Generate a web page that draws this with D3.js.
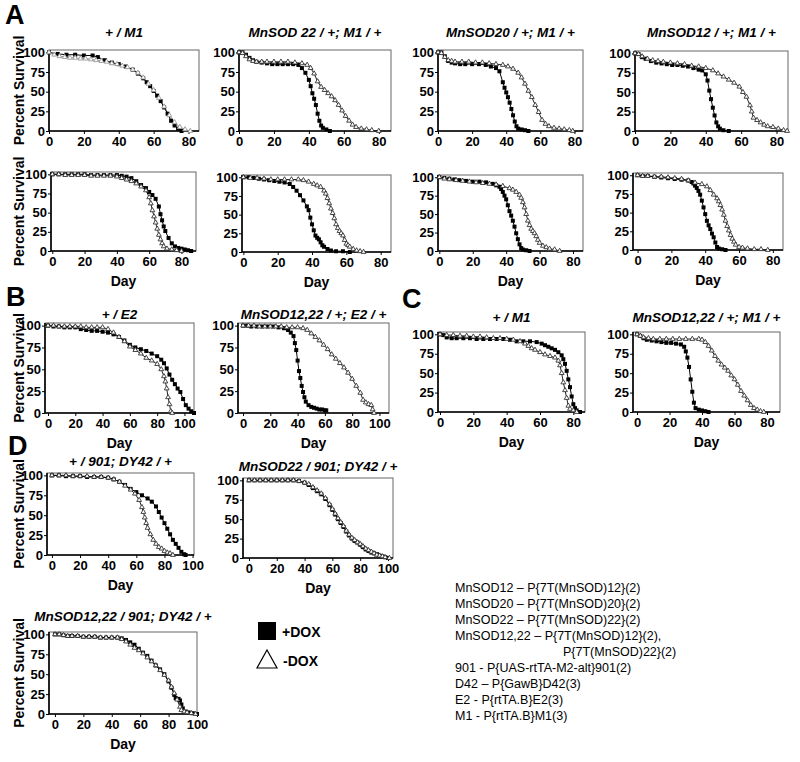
<!DOCTYPE html>
<html><head><meta charset="utf-8">
<script src="https://cdn.jsdelivr.net/npm/d3@7"></script>
<style>
body{margin:0;background:#fff;}
svg{display:block;font-family:"Liberation Sans",Arial,Helvetica,sans-serif;}
</style></head>
<body><svg id="c" width="800" height="762"></svg>
<script>
// ---------- DATA ----------
const yTicks = [0, 25, 50, 75, 100];
const xTicks80 = [0, 20, 40, 60, 80];
const xTicks100 = [0, 20, 40, 60, 80, 100];
const legendLabels = ["+DOX", "-DOX"];
const panelLetters = ["A", "B", "C", "D"];
const titles = ["+ / M1", "MnSOD 22 / +; M1 / +", "MnSOD20 / +; M1 / +", "MnSOD12 / +; M1 / +",
  "+ / E2", "MnSOD12,22 / +; E2 / +", "+ / M1", "MnSOD12,22 / +; M1 / +",
  "+ / 901; DY42 / +", "MnSOD22 / 901; DY42 / +", "MnSOD12,22 / 901; DY42 / +"];
const notes = [
  ["MnSOD12 \u2013 P{7T(MnSOD)12}(2)", 0],
  ["MnSOD20 \u2013 P{7T(MnSOD)20}(2)", 0],
  ["MnSOD22 \u2013 P{7T(MnSOD)22}(2)", 0],
  ["MnSOD12,22 \u2013 P{7T(MnSOD)12}(2),", 0],
  ["P{7T(MnSOD)22}(2)", 1],
  ["901 - P{UAS-rtTA-M2-alt}901(2)", 0],
  ["D42 \u2013 P{GawB}D42(3)", 0],
  ["E2 - P{rtTA.B}E2(3)", 0],
  ["M1 - P{rtTA.B}M1(3)", 0]
];

// series: [day, percent survival]
const a1Dox = [[0,100],[5,98],[10,97],[15,97],[20,96],[25,96],[28,94],[32,90],[36,87],[40,85],[44,82],[48,78],[51,73],[54,67],[56,62],[58,57],[60,51],[62,45],[64,38],[66,30],[68,22],[70,13],[72,7],[74,3],[76,0]];
const a1NoDox = [[0,100],[3,97],[6,95],[9,94],[12,93],[15,93],[18,92],[21,92],[24,91],[27,90],[30,89],[33,88],[36,86],[39,85],[42,83],[45,81],[48,78],[51,74],[54,68],[57,60],[60,52],[63,42],[66,31],[69,20],[72,11],[75,5],[78,2],[81,0]];
const a2Dox = [[0,100],[2,100],[4,97],[6,93],[8,90],[10,88],[13,87],[16,86],[19,85],[22,85],[25,85],[28,85],[31,85],[34,84],[36,80],[38,74],[40,65],[41,57],[42,48],[43,41],[44,33],[45,22],[46,13],[47,7],[48,4],[50,2],[52,0]];
const a2NoDox = [[0,100],[2,99],[4,95],[6,91],[8,89],[10,88],[13,88],[16,88],[20,88],[24,88],[28,88],[32,87],[36,86],[39,84],[41,80],[43,73],[45,63],[47,56],[49,52],[51,48],[53,44],[55,39],[57,33],[59,26],[61,19],[63,13],[65,8],[67,5],[70,3],[73,2],[76,1],[80,0]];
const a3Dox = [[0,100],[2,100],[4,95],[6,89],[8,87],[10,86],[13,85],[16,85],[20,85],[24,85],[28,84],[31,82],[34,80],[36,76],[38,62],[39,55],[40,49],[41,43],[42,36],[43,28],[44,20],[45,12],[46,6],[47,3],[49,2],[51,1],[53,0]];
const a3NoDox = [[0,100],[2,99],[4,94],[6,90],[8,89],[10,88],[14,88],[18,88],[22,87],[26,87],[30,86],[34,85],[38,84],[41,82],[44,79],[47,74],[49,68],[51,60],[53,51],[55,43],[57,33],[59,24],[61,14],[63,9],[65,6],[68,4],[71,3],[74,2],[77,1],[79,0]];
const a4Dox = [[0,100],[2,99],[4,95],[6,93],[9,90],[12,88],[15,87],[18,86],[21,85],[24,85],[27,84],[30,83],[33,81],[36,79],[38,78],[40,73],[41,65],[42,52],[43,41],[44,30],[45,20],[46,11],[47,6],[48,3],[50,1],[53,0]];
const a4NoDox = [[0,100],[2,99],[4,96],[7,93],[10,91],[13,90],[16,89],[20,88],[24,87],[28,86],[32,84],[36,83],[40,81],[44,78],[47,74],[50,70],[53,66],[56,62],[59,57],[61,50],[63,44],[65,33],[66,25],[67,17],[69,14],[71,11],[73,8],[75,6],[78,5],[81,3],[84,1],[86,0]];
const a5Dox = [[0,100],[4,100],[8,100],[12,100],[16,100],[20,100],[24,99],[28,99],[32,99],[36,99],[40,99],[43,98],[46,97],[49,95],[52,91],[55,86],[58,82],[60,77],[62,73],[64,68],[66,58],[67,48],[68,40],[69,32],[70,26],[72,17],[74,10],[76,6],[78,4],[80,3],[82,2],[84,1],[86,0]];
const a5NoDox = [[0,100],[4,100],[8,99],[12,99],[16,99],[20,99],[24,98],[28,98],[32,98],[36,98],[40,97],[43,95],[46,93],[49,91],[52,88],[55,84],[58,79],[60,70],[61,62],[62,53],[63,45],[64,37],[65,29],[66,21],[67,15],[68,10],[69,6],[71,3],[74,2],[77,1],[80,0]];
const a6Dox = [[0,100],[3,100],[6,99],[9,98],[12,97],[15,96],[18,95],[21,94],[24,93],[27,91],[29,87],[31,82],[33,76],[35,69],[37,61],[38,56],[39,46],[40,37],[41,29],[42,22],[43,19],[44,17],[45,13],[46,9],[47,7],[49,4],[51,2],[54,1],[58,1],[62,0]];
const a6NoDox = [[0,100],[4,99],[8,99],[12,98],[16,97],[20,97],[24,97],[28,97],[32,97],[35,96],[38,94],[41,91],[43,89],[45,87],[47,82],[48,78],[49,72],[50,65],[51,58],[52,52],[53,45],[54,37],[55,32],[56,28],[57,25],[58,22],[59,16],[60,11],[61,9],[62,7],[64,4],[66,2],[68,1],[70,0]];
const a7Dox = [[0,100],[3,99],[6,98],[9,97],[12,96],[16,95],[20,94],[24,94],[28,93],[32,91],[34,89],[36,87],[37,84],[38,80],[39,75],[40,70],[41,62],[42,54],[43,48],[44,41],[45,33],[46,24],[47,16],[48,9],[49,4],[50,2],[52,1],[54,0]];
const a7NoDox = [[0,100],[3,98],[6,97],[10,96],[14,95],[18,94],[22,93],[26,92],[30,91],[34,90],[38,88],[42,85],[44,83],[46,80],[48,76],[49,72],[50,66],[51,59],[52,50],[53,41],[54,35],[55,30],[56,27],[57,24],[58,20],[59,15],[60,11],[62,7],[64,5],[66,3],[69,2],[72,0]];
const a8Dox = [[0,100],[3,99],[6,99],[10,98],[14,97],[18,96],[22,95],[26,94],[30,93],[32,91],[33,89],[34,86],[35,83],[36,79],[37,74],[38,66],[39,57],[40,48],[41,39],[42,33],[43,28],[44,22],[45,17],[46,10],[47,4],[48,2],[50,1],[52,0]];
const a8NoDox = [[0,100],[3,99],[6,99],[10,98],[14,98],[18,97],[22,96],[26,95],[30,93],[34,90],[38,88],[41,85],[43,80],[45,74],[47,69],[48,65],[49,60],[50,54],[51,47],[52,39],[53,32],[54,26],[55,20],[56,15],[57,11],[58,7],[60,4],[62,3],[65,2],[69,1],[73,1],[77,0]];
const b1Dox = [[0,100],[4,99],[8,99],[12,98],[16,98],[20,98],[24,96],[28,95],[32,94],[36,94],[40,93],[44,92],[48,90],[52,87],[56,83],[60,78],[64,75],[68,73],[72,71],[76,68],[80,65],[83,61],[85,57],[87,51],[89,44],[91,38],[93,33],[95,28],[97,24],[99,16],[101,9],[103,5],[105,2],[107,0]];
const b1NoDox = [[0,100],[4,100],[8,99],[12,99],[16,99],[20,99],[24,99],[28,98],[32,98],[36,98],[40,98],[44,96],[48,92],[52,87],[56,82],[60,76],[64,72],[68,68],[72,63],[76,60],[80,56],[83,50],[85,42],[86,36],[87,28],[88,18],[89,10],[90,2],[91,0]];
const b2Dox = [[0,100],[3,100],[6,99],[10,99],[14,99],[18,99],[22,99],[26,98],[30,97],[33,95],[35,92],[37,88],[38,80],[39,72],[40,60],[41,48],[42,40],[43,31],[44,24],[45,18],[46,13],[48,9],[50,7],[52,6],[54,5],[56,4],[58,4],[60,3],[61,3]];
const b2NoDox = [[0,100],[4,100],[8,100],[12,99],[16,99],[20,99],[24,99],[28,99],[32,98],[36,98],[40,98],[44,97],[47,95],[50,91],[53,87],[56,83],[59,78],[62,73],[65,67],[68,62],[71,57],[74,52],[77,46],[80,39],[83,31],[86,23],[88,15],[90,12],[92,10],[94,9],[95,4],[96,0]];
const c1Dox = [[0,100],[2,99],[4,96],[7,95],[10,95],[14,95],[18,95],[22,94],[26,94],[30,94],[34,94],[38,94],[42,93],[46,91],[50,91],[54,91],[58,90],[61,88],[63,86],[65,84],[67,82],[69,80],[71,77],[73,73],[74,68],[75,62],[76,53],[77,42],[78,32],[79,20],[80,10],[81,5],[82,2],[84,0]];
const c1NoDox = [[0,100],[4,99],[8,99],[12,98],[16,98],[20,97],[24,97],[28,96],[32,95],[36,95],[40,94],[44,93],[48,91],[51,88],[53,85],[55,82],[57,80],[60,77],[63,74],[66,72],[69,70],[71,66],[72,60],[73,50],[74,38],[75,28],[76,18],[77,8],[78,4],[80,2],[82,0]];
const c2Dox = [[0,100],[2,98],[4,95],[6,93],[9,92],[12,91],[15,90],[18,89],[21,89],[24,88],[27,87],[29,84],[30,78],[31,70],[32,58],[33,42],[34,26],[35,12],[36,5],[38,3],[40,2],[42,1],[44,0]];
const c2NoDox = [[0,100],[2,98],[4,96],[7,95],[10,94],[14,94],[18,94],[22,94],[26,94],[30,94],[34,94],[38,94],[40,93],[42,90],[44,85],[46,79],[48,72],[50,66],[52,61],[54,57],[56,53],[58,47],[60,42],[62,35],[64,27],[66,21],[68,15],[70,9],[72,5],[74,3],[76,1],[78,0]];
const d1Dox = [[0,100],[5,100],[10,99],[15,99],[20,99],[25,98],[30,98],[35,98],[40,97],[44,95],[48,92],[52,88],[56,83],[60,79],[64,75],[68,71],[71,67],[74,61],[76,54],[78,47],[80,40],[82,33],[84,26],[86,19],[88,14],[90,9],[92,4],[94,1],[95,0]];
const d1NoDox = [[0,100],[5,100],[10,100],[15,99],[20,99],[25,99],[30,98],[35,98],[40,97],[44,95],[48,92],[52,87],[56,82],[59,77],[62,69],[64,60],[65,54],[66,47],[67,40],[68,34],[70,26],[72,19],[74,14],[76,10],[78,8],[80,5],[82,3],[84,2],[86,0]];
const d2Dox = [[0,100],[4,100],[8,100],[12,100],[16,100],[20,100],[24,100],[28,100],[32,100],[36,99],[40,97],[43,94],[46,90],[49,86],[52,82],[55,76],[58,68],[60,62],[62,56],[64,50],[66,45],[68,40],[70,34],[72,29],[74,25],[76,22],[78,20],[80,17],[82,14],[84,11],[86,9],[88,7],[90,6],[92,5],[94,3],[96,2],[98,1],[100,0]];
const d2NoDox = [[0,100],[4,100],[8,100],[12,100],[16,100],[20,100],[24,100],[28,100],[32,100],[36,99],[40,97],[43,95],[46,91],[49,87],[52,83],[55,77],[58,69],[60,63],[62,57],[64,51],[66,46],[68,41],[70,35],[72,30],[74,26],[76,23],[78,20],[80,18],[82,15],[84,12],[86,10],[88,8],[90,6],[92,4],[94,3],[96,2],[98,1],[101,0]];
const d3Dox = [[0,100],[3,100],[6,99],[9,98],[12,98],[16,98],[20,97],[24,97],[28,97],[32,96],[36,96],[40,96],[44,96],[47,95],[50,93],[53,90],[56,87],[59,82],[62,77],[65,73],[68,67],[71,61],[74,56],[77,50],[80,41],[82,33],[84,24],[85,20],[87,19],[88,17],[89,12],[90,7],[92,3],[94,2],[97,1],[100,0]];
const d3NoDox = [[0,100],[3,100],[6,99],[9,98],[12,98],[16,98],[20,97],[24,97],[28,97],[32,96],[36,96],[40,96],[44,96],[47,94],[50,91],[53,87],[56,83],[59,80],[62,76],[65,71],[68,66],[71,61],[74,55],[77,49],[80,42],[82,34],[84,26],[86,18],[88,9],[89,5],[91,3],[93,2],[96,1],[99,0]];

// ---------- LAYOUT ----------
const panels = [
  {x0:49, x1:199, y0:50, y1:131, xd:[0,86],     ti:0, ty:37, ticks:xTicks80, ylab:true,  day:false, dox:a1Dox, nodox:a1NoDox, light:true},
  {x0:239,x1:391, y0:50, y1:131, xd:[0,87],     ti:1, ty:37, ticks:xTicks80, ylab:false, day:false, dox:a2Dox, nodox:a2NoDox},
  {x0:438,x1:583, y0:50, y1:131, xd:[0,85],     ti:2, ty:37, ticks:xTicks80, ylab:false, day:false, dox:a3Dox, nodox:a3NoDox},
  {x0:635,x1:788, y0:51, y1:131, xd:[0,86.5],   ti:3, ty:37, ticks:xTicks80, ylab:false, day:false, dox:a4Dox, nodox:a4NoDox},
  {x0:51, x1:196, y0:172,y1:251, xd:[-0.8,89],  ti:-1,               ticks:xTicks80, ylab:true,  day:true,  dox:a5Dox, nodox:a5NoDox},
  {x0:242,x1:391, y0:175,y1:252, xd:[-0.8,86],  ti:-1,               ticks:xTicks80, ylab:false, day:true,  dox:a6Dox, nodox:a6NoDox},
  {x0:438,x1:583, y0:175,y1:251, xd:[-0.8,86],  ti:-1,               ticks:xTicks80, ylab:false, day:true,  dox:a7Dox, nodox:a7NoDox},
  {x0:633,x1:783, y0:173,y1:250, xd:[-2.7,86],  ti:-1,               ticks:xTicks80, ylab:false, day:true,  dox:a8Dox, nodox:a8NoDox},
  {x0:45, x1:194, y0:323,y1:413, xd:[-2.2,107], ti:4, ty:319, ticks:xTicks100, ylab:true,  day:true,  dox:b1Dox, nodox:b1NoDox},
  {x0:238,x1:389, y0:323,y1:413, xd:[-3.7,107], ti:5, ty:319, ticks:xTicks100, ylab:false, day:true,  dox:b2Dox, nodox:b2NoDox},
  {x0:438,x1:585, y0:332,y1:412, xd:[-1.2,87],  ti:6, ty:322, ticks:xTicks80, ylab:false, day:true,  dox:c1Dox, nodox:c1NoDox},
  {x0:633,x1:780, y0:332,y1:412, xd:[-2.5,88],  ti:7, ty:322, ticks:xTicks80, ylab:false, day:true,  dox:c2Dox, nodox:c2NoDox},
  {x0:47, x1:194, y0:473,y1:555, xd:[-3.5,101], ti:8, ty:466, ticks:xTicks100, ylab:true,  day:true,  dox:d1Dox, nodox:d1NoDox},
  {x0:243,x1:393, y0:478,y1:558, xd:[-4.3,103.6],ti:9, ty:471, ticks:xTicks100, ylab:false, day:true,  dox:d2Dox, nodox:d2NoDox},
  {x0:49, x1:197, y0:632,y1:714, xd:[-4.2,100], ti:10,ty:621, ticks:xTicks100, ylab:true,  day:true,  dox:d3Dox, nodox:d3NoDox}
];
const letterPos = [[5,24],[6,306],[402,308],[8,455]];

const svg = d3.select("#c");
const FONT = '"Liberation Sans",Arial,Helvetica,sans-serif';

panelLetters.forEach((L,i)=>{
  svg.append("text").attr("x",letterPos[i][0]).attr("y",letterPos[i][1])
    .attr("font-size",27).attr("font-weight","bold").text(L);
});

const tri = d3.symbol().type(d3.symbolTriangle).size(10);

panels.forEach(p=>{
  const x = d3.scaleLinear().domain(p.xd).range([p.x0,p.x1]);
  const y = d3.scaleLinear().domain([0,103]).range([p.y1,p.y0]);
  const g = svg.append("g");
  g.append("rect").attr("x",p.x0).attr("y",p.y0).attr("width",p.x1-p.x0).attr("height",p.y1-p.y0)
    .attr("fill","none").attr("stroke","#666").attr("stroke-width",1);
  const ax = g.append("g").attr("transform",`translate(0,${p.y1})`)
    .call(d3.axisBottom(x).tickValues(p.ticks).tickSize(3).tickPadding(3));
  const ay = g.append("g").attr("transform",`translate(${p.x0},0)`)
    .call(d3.axisLeft(y).tickValues(yTicks).tickSize(3).tickPadding(1));
  [ax,ay].forEach(a=>{
    a.select(".domain").remove();
    a.selectAll("line").attr("stroke","#000");
    a.selectAll("text").attr("font-family",FONT).attr("font-size",13).attr("font-weight","bold").attr("fill","#000");
  });
  g.append("line").attr("x1",p.x0).attr("x2",p.x1).attr("y1",p.y1).attr("y2",p.y1).attr("stroke","#000").attr("stroke-width",1.6);
  g.append("line").attr("x1",p.x0).attr("x2",p.x0).attr("y1",p.y0).attr("y2",p.y1).attr("stroke","#000").attr("stroke-width",1.6);

  const line = d3.line().x(d=>x(d[0])).y(d=>y(d[1]));
  g.append("path").datum(p.nodox).attr("d",line).attr("fill","none").attr("stroke",p.light?"#888":"#222").attr("stroke-width",1);
  g.append("path").datum(p.dox).attr("d",line).attr("fill","none").attr("stroke","#000").attr("stroke-width",1);
  g.selectAll(".sq").data(p.dox).enter().append("rect")
    .attr("x",d=>x(d[0])-2).attr("y",d=>y(d[1])-2).attr("width",4).attr("height",4).attr("fill","#000");
  g.selectAll(".tr").data(p.nodox).enter().append("path")
    .attr("d",tri).attr("transform",d=>`translate(${x(d[0])},${y(d[1])})`)
    .attr("fill","#fff").attr("stroke",p.light?"#999":"#333").attr("stroke-width",0.9);

  if(p.ti>=0){
    g.append("text").attr("x",(p.x0+p.x1)/2).attr("y",p.ty).attr("text-anchor","middle")
      .attr("font-size",13.5).attr("font-weight","bold").attr("font-style","italic").text(titles[p.ti]);
  }
  if(p.ylab){
    g.append("text").attr("transform",`translate(19,${(p.y0+p.y1)/2}) rotate(-90)`)
      .attr("text-anchor","middle").attr("dominant-baseline","central")
      .attr("font-size",14).attr("font-weight","bold").text("Percent Survival");
  }
  if(p.day){
    g.append("text").attr("x",(p.x0+p.x1)/2).attr("y",p.y1+30).attr("text-anchor","middle")
      .attr("dominant-baseline","central").attr("font-size",14).attr("font-weight","bold").text("Day");
  }
});

// legend
svg.append("rect").attr("x",258).attr("y",622).attr("width",18).attr("height",18).attr("fill","#000");
svg.append("path").attr("d","M267,650 L277,668 L257,668 Z").attr("fill","#fff").attr("stroke","#000").attr("stroke-width",1.2);
svg.append("text").attr("x",282).attr("y",632).attr("dominant-baseline","central").attr("font-size",14).attr("font-weight","bold").text(legendLabels[0]);
svg.append("text").attr("x",283).attr("y",661).attr("dominant-baseline","central").attr("font-size",14).attr("font-weight","bold").text(legendLabels[1]);

// notes
notes.forEach((n,i)=>{
  svg.append("text").attr("x",n[1]?563:455).attr("y",592+i*16)
    .attr("font-size",12.5).text(n[0]);
});
</script></body></html>
